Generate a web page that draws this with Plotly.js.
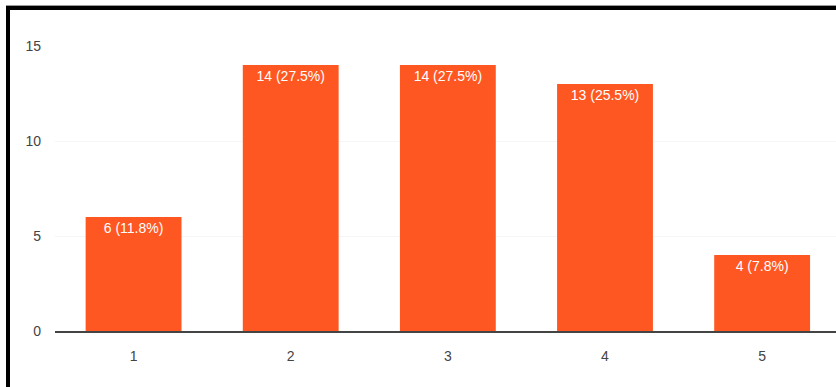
<!DOCTYPE html>
<html>
<head>
<meta charset="utf-8">
<script src="https://cdn.plot.ly/plotly-3.0.1.min.js"></script>
<style>
  html, body { margin: 0; padding: 0; background: #fff; overflow: hidden; }
  #chart { width: 836px; height: 387px; }
  #btop { position: absolute; left: 6px; top: 6px; width: 830px; height: 4px; background: #000; }
  #bleft { position: absolute; left: 6px; top: 6px; width: 4px; height: 381px; background: #000; }
  #bshade { position: absolute; left: 6px; top: 5px; width: 830px; height: 1px; background: #999; }
</style>
</head>
<body>
<div id="chart"></div>
<div id="bshade"></div>
<div id="btop"></div>
<div id="bleft"></div>
<script>
const categories = ['1', '2', '3', '4', '5'];
const counts = [6, 14, 14, 13, 4];
const barLabels = ['6 (11.8%)', '14 (27.5%)', '14 (27.5%)', '13 (25.5%)', '4 (7.8%)'];
const yTicks = [0, 5, 10, 15];

const trace = {
  type: 'bar',
  x: categories.map(Number),
  y: counts,
  text: barLabels,
  textposition: 'inside',
  insidetextanchor: 'end',
  constraintext: 'none',
  textfont: { family: 'Liberation Sans, Arial, sans-serif', size: 14, color: '#ffffff' },
  marker: { color: '#ff5722', line: { width: 0 } },
  hoverinfo: 'none'
};

const layout = {
  width: 836,
  height: 387,
  margin: { l: 55, r: 0, t: 46, b: 56, pad: 0 },
  paper_bgcolor: '#ffffff',
  plot_bgcolor: '#ffffff',
  bargap: 0.39,
  showlegend: false,
  font: { family: 'Liberation Sans, Arial, sans-serif', size: 13, color: '#555555' },
  xaxis: {
    range: [0.5, 5.47],
    tickvals: categories.map(Number),
    ticktext: categories,
    showgrid: false,
    zeroline: false,
    showline: true,
    linecolor: '#444444',
    linewidth: 1.5,
    ticks: '',
    ticklabelstandoff: 12,
    tickfont: { size: 14, color: '#444444' },
    fixedrange: true
  },
  yaxis: {
    range: [0, 15],
    tickvals: yTicks,
    showgrid: true,
    gridcolor: '#f6f6f6',
    zeroline: false,
    showline: false,
    ticks: '',
    ticklabelstandoff: 13,
    tickfont: { size: 14, color: '#444444' },
    fixedrange: true
  }
};

Plotly.newPlot('chart', [trace], layout, { displayModeBar: false, staticPlot: true });
</script>
</body>
</html>
